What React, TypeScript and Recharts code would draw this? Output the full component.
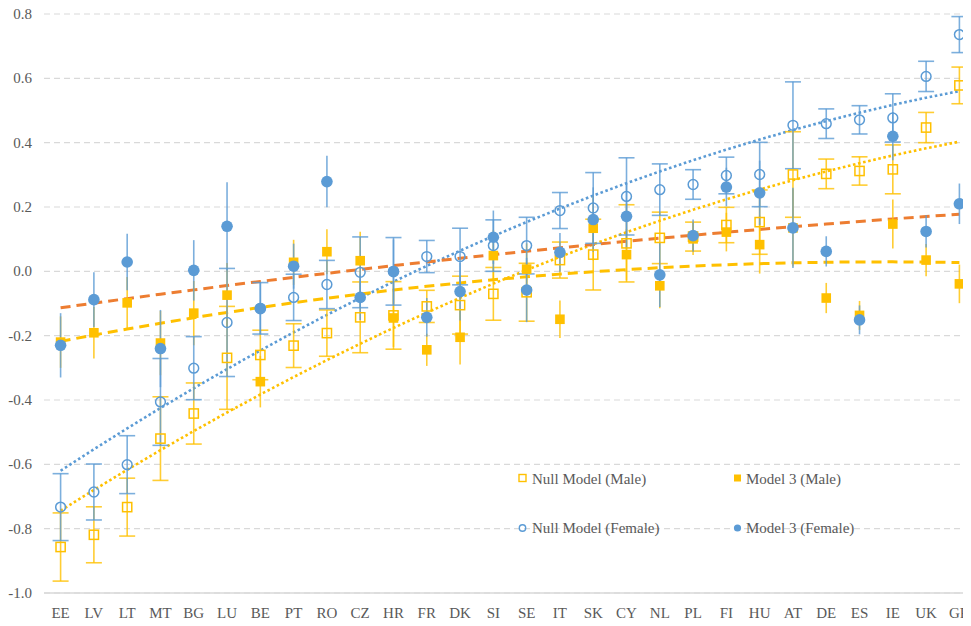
import React from 'react';
import { ComposedChart, Line, XAxis, YAxis, CartesianGrid, ErrorBar } from 'recharts';

const countries = ['EE','LV','LT','MT','BG','LU','BE','PT','RO','CZ','HR','FR','DK','SI','SE','IT','SK','CY','NL','PL','FI','HU','AT','DE','ES','IE','UK','GR'];

const nullMale = [-0.857,-0.819,-0.733,-0.520,-0.442,-0.269,-0.260,-0.231,-0.192,-0.143,-0.137,-0.109,-0.105,-0.070,-0.065,0.035,0.052,0.087,0.104,0.108,0.144,0.153,0.301,0.303,0.312,0.317,0.447,0.578];
const nullMaleErr = [0.106,0.087,0.090,0.130,0.095,0.160,0.077,0.068,0.072,0.110,0.105,0.050,0.090,0.082,0.090,0.056,0.110,0.120,0.080,0.045,0.055,0.100,0.133,0.046,0.044,0.076,0.047,0.057];

const model3Male = [-0.220,-0.191,-0.098,-0.223,-0.130,-0.074,-0.343,0.028,0.061,0.033,-0.145,-0.244,-0.205,0.049,0.007,-0.149,0.134,0.052,-0.045,0.101,0.122,0.083,0.135,-0.083,-0.137,0.147,0.035,-0.039];
const model3MaleErr = [0.080,0.080,0.080,0.100,0.100,0.100,0.080,0.070,0.070,0.090,0.090,0.050,0.085,0.080,0.080,0.058,0.100,0.080,0.070,0.050,0.060,0.090,0.120,0.047,0.045,0.076,0.050,0.060];

const nullFemale = [-0.733,-0.686,-0.601,-0.406,-0.301,-0.159,-0.115,-0.081,-0.041,-0.003,0.000,0.046,0.046,0.080,0.080,0.189,0.197,0.233,0.254,0.270,0.298,0.301,0.454,0.459,0.471,0.477,0.606,0.736];
const nullFemaleErr = [0.104,0.087,0.090,0.135,0.098,0.168,0.080,0.072,0.075,0.110,0.105,0.050,0.088,0.080,0.088,0.056,0.110,0.120,0.080,0.046,0.057,0.100,0.135,0.046,0.044,0.075,0.047,0.056];

const model3Female = [-0.230,-0.088,0.029,-0.240,0.003,0.140,-0.116,0.016,0.279,-0.081,-0.001,-0.143,-0.063,0.106,-0.058,0.059,0.161,0.171,-0.011,0.111,0.262,0.244,0.135,0.062,-0.151,0.420,0.124,0.210];
const model3FemaleErr = [0.100,0.085,0.088,0.120,0.094,0.137,0.080,0.070,0.080,0.070,0.100,0.060,0.090,0.083,0.100,0.060,0.100,0.100,0.100,0.050,0.060,0.100,0.125,0.047,0.045,0.075,0.050,0.063];

const yTicks = [-1.0,-0.8,-0.6,-0.4,-0.2,0.0,0.2,0.4,0.6,0.8];

const YELLOW = '#FFC000';
const BLUE = '#5B9BD5';
const ORANGE = '#ED7D31';
const TEXT = '#595959';
const FONT = 'Liberation Serif';

// Excel-style 2nd-order polynomial trendline (least squares on category index 1..n)
function polyTrend(ys: number[]): number[] {
  const xs = ys.map((_, i) => i + 1);
  const S = [0, 0, 0, 0, 0];
  const T = [0, 0, 0];
  xs.forEach((x, i) => {
    for (let k = 0; k < 5; k++) S[k] += Math.pow(x, k);
    for (let k = 0; k < 3; k++) T[k] += ys[i] * Math.pow(x, k);
  });
  const M = [
    [S[0], S[1], S[2], T[0]],
    [S[1], S[2], S[3], T[1]],
    [S[2], S[3], S[4], T[2]],
  ];
  for (let c = 0; c < 3; c++) {
    for (let r = c + 1; r < 3; r++) {
      const f = M[r][c] / M[c][c];
      for (let k = c; k < 4; k++) M[r][k] -= f * M[c][k];
    }
  }
  const coef = [0, 0, 0];
  for (let r = 2; r >= 0; r--) {
    let s = M[r][3];
    for (let k = r + 1; k < 3; k++) s -= M[r][k] * coef[k];
    coef[r] = s / M[r][r];
  }
  return xs.map((x) => coef[0] + coef[1] * x + coef[2] * x * x);
}

const tNM = polyTrend(nullMale);
const tNF = polyTrend(nullFemale);
const tMM = polyTrend(model3Male);
const tMF = polyTrend(model3Female);

const rows = countries.map((c, i) => ({
  c,
  nm: nullMale[i], nmE: nullMaleErr[i],
  mm: model3Male[i], mmE: model3MaleErr[i],
  nf: nullFemale[i], nfE: nullFemaleErr[i],
  mf: model3Female[i], mfE: model3FemaleErr[i],
  tNM: tNM[i], tNF: tNF[i], tMM: tMM[i], tMF: tMF[i],
}));

const openSquare = (p: any) => {
  const { cx, cy, index } = p;
  if (cx == null || cy == null) return <g key={'nm' + index} />;
  return <rect key={'nm' + index} x={cx - 4.6} y={cy - 4.6} width={9.2} height={9.2} fill="none" stroke={YELLOW} strokeWidth={1.5} />;
};
const filledSquare = (p: any) => {
  const { cx, cy, index } = p;
  if (cx == null || cy == null) return <g key={'mm' + index} />;
  return <rect key={'mm' + index} x={cx - 4.8} y={cy - 4.8} width={9.6} height={9.6} fill={YELLOW} stroke="none" />;
};
const openCircle = (p: any) => {
  const { cx, cy, index } = p;
  if (cx == null || cy == null) return <g key={'nf' + index} />;
  return <circle key={'nf' + index} cx={cx} cy={cy} r={4.9} fill="none" stroke={BLUE} strokeWidth={1.5} />;
};
const filledCircle = (p: any) => {
  const { cx, cy, index } = p;
  if (cx == null || cy == null) return <g key={'mf' + index} />;
  return <circle key={'mf' + index} cx={cx} cy={cy} r={5.8} fill={BLUE} stroke="none" />;
};

const XTick = (p: any) => {
  const { x, y, payload } = p;
  return (
    <text x={x} y={y + 10.5} textAnchor="middle" fontFamily={FONT} fontSize={15} fill={TEXT} style={{ fontFamily: FONT }}>
      {payload.value}
    </text>
  );
};
const YTick = (p: any) => {
  const { x, y, payload } = p;
  return (
    <text x={x} y={y + 5} textAnchor="end" fontFamily={FONT} fontSize={15} fill={TEXT} style={{ fontFamily: FONT }}>
      {Number(payload.value).toFixed(1)}
    </text>
  );
};

const LegendText = ({ x, y, children }: any) => (
  <text x={x} y={y} fontFamily={FONT} fontSize={15} fill={TEXT} style={{ fontFamily: FONT }}>
    {children}
  </text>
);

export default function App() {
  return (
    <div style={{ position: 'relative', width: 963, height: 626, marginTop: -8, marginBottom: -8, overflow: 'hidden' }}>
      <ComposedChart width={975} height={626} data={rows} margin={{ top: 14, right: 7, bottom: 0, left: 0 }}>
        <CartesianGrid vertical={false} stroke="#D9D9D9" strokeWidth={1.2} strokeDasharray="6 4" />
        <XAxis
          dataKey="c"
          height={33}
          interval={0}
          padding={{ left: 16.6, right: 16.6 }}
          axisLine={{ stroke: '#D9D9D9', strokeWidth: 1.5 }}
          tickLine={false}
          tickSize={6}
          tickMargin={8}
          tick={<XTick />}
        />
        <YAxis
          width={36}
          type="number"
          domain={[-1, 0.8]}
          ticks={yTicks}
          interval={0}
          axisLine={false}
          tickLine={false}
          tickSize={6}
          tickMargin={6}
          tick={<YTick />}
        />
        <Line dataKey="tNM" stroke={YELLOW} strokeWidth={2.6} strokeDasharray="2.6 2.6" dot={false} activeDot={false} isAnimationActive={false} />
        <Line dataKey="tNF" stroke={BLUE} strokeWidth={2.6} strokeDasharray="2.6 2.6" dot={false} activeDot={false} isAnimationActive={false} />
        <Line dataKey="tMM" stroke={YELLOW} strokeWidth={3} strokeDasharray="10 6" dot={false} activeDot={false} isAnimationActive={false} />
        <Line dataKey="tMF" stroke={ORANGE} strokeWidth={3} strokeDasharray="10 6" dot={false} activeDot={false} isAnimationActive={false} />

        <Line dataKey="nm" stroke="none" dot={openSquare} activeDot={false} isAnimationActive={false}>
          <ErrorBar dataKey="nmE" width={8} stroke={YELLOW} strokeWidth={1.6} strokeOpacity={0.8} direction="y" />
        </Line>
        <Line dataKey="mm" stroke="none" dot={filledSquare} activeDot={false} isAnimationActive={false}>
          <ErrorBar dataKey="mmE" width={0} stroke={YELLOW} strokeWidth={1.6} strokeOpacity={0.8} direction="y" />
        </Line>
        <Line dataKey="nf" stroke="none" dot={openCircle} activeDot={false} isAnimationActive={false}>
          <ErrorBar dataKey="nfE" width={8} stroke={BLUE} strokeWidth={1.6} strokeOpacity={0.8} direction="y" />
        </Line>
        <Line dataKey="mf" stroke="none" dot={filledCircle} activeDot={false} isAnimationActive={false}>
          <ErrorBar dataKey="mfE" width={0} stroke={BLUE} strokeWidth={1.6} strokeOpacity={0.8} direction="y" />
        </Line>
      </ComposedChart>
      <svg width={963} height={626} style={{ position: 'absolute', left: 0, top: 0, pointerEvents: 'none' }}>
        <rect x={511} y={474.5} width={7} height={7} fill="none" stroke={YELLOW} strokeWidth={1.4} />
        <LegendText x={524} y={484}>Null Model (Male)</LegendText>
        <rect x={726} y={474.5} width={7} height={7} fill={YELLOW} />
        <LegendText x={738} y={484}>Model 3 (Male)</LegendText>
        <circle cx={514.5} cy={528} r={3.2} fill="none" stroke={BLUE} strokeWidth={1.4} />
        <LegendText x={524} y={533}>Null Model (Female)</LegendText>
        <circle cx={729.5} cy={528} r={3.6} fill={BLUE} />
        <LegendText x={738} y={533}>Model 3 (Female)</LegendText>
      </svg>
    </div>
  );
}
